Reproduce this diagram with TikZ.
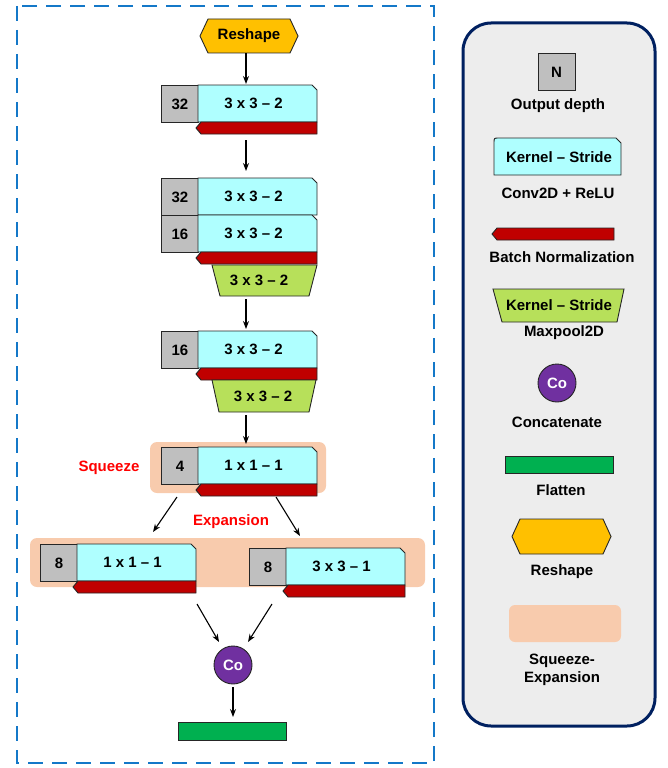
\documentclass[tikz,border=0pt]{standalone}
\usepackage{fontspec}
\setmainfont{Liberation Sans}
\usetikzlibrary{arrows.meta}
\definecolor{graycol}{RGB}{191,191,191}
\definecolor{convcol}{RGB}{175,255,255}
\definecolor{bncol}{RGB}{192,0,0}
\definecolor{poolcol}{RGB}{183,224,90}
\definecolor{rshcol}{RGB}{255,192,0}
\definecolor{cocol}{RGB}{112,48,160}
\definecolor{flatcol}{RGB}{0,176,80}
\definecolor{secol}{RGB}{248,203,173}
\definecolor{dashcol}{RGB}{20,120,200}
\definecolor{legbd}{RGB}{0,32,96}
\definecolor{legfill}{RGB}{237,237,237}
\definecolor{redlab}{RGB}{255,0,0}
\tikzset{
  lab/.style={font=\fontsize{15}{18}\selectfont\bfseries, inner sep=0pt, text=black},
  box/.style={draw=black!85, line width=0.9pt},
  graybox/.style={box, fill=graycol, lab, minimum width=37pt, minimum height=37pt, anchor=north west},
  arr/.style={-{Stealth[length=8pt,width=6pt]}, line width=1.1pt},
}
% #1 name, #2 x left, #3 y top, #4 number, #5 text, #6 x right
\newcommand{\cvrow}[6]{%
  \node[graybox] (#1n) at (#2,#3) {#4};
  \draw[box, fill=convcol] ({#2+37},#3) -- ({#6-5},#3) -- (#6,{#3+5}) -- (#6,{#3+37}) -- ({#2+37},{#3+37}) -- cycle;
  \node[lab] (#1t) at ({(#2+37+#6)/2-4},{#3+18.5}) {#5};
}
% #1 name, #2 tip x, #3 right x, #4 top y
\newcommand{\bnbar}[4]{%
  \draw[box, fill=bncol] ({#2+5},#4) -- (#3,#4) -- (#3,{#4+12}) -- ({#2+5},{#4+12}) -- (#2,{#4+6}) -- cycle;
  \coordinate (#1) at ({(#2+#3)/2},{#4+12});
}
% #1 name, #2 top-left x, #3 top-right x, #4 bottom-left x, #5 bottom-right x, #6 top y, #7 bottom y, #8 text, #9 text x
\newcommand{\poolbox}[9]{%
  \draw[box, fill=poolcol] (#2,#6) -- (#3,#6) -- (#5,#7) -- (#4,#7) -- cycle;
  \node[lab] (#1) at (#9,{(#6+#7)/2}) {#8};
}
% #1 name, #2 left x, #3 right x, #4 top y, #5 bottom y, #6 text
\newcommand{\hexbox}[6]{%
  \fill[rshcol] (#2,{(#4+#5)/2}) -- ({#2+8},#4) -- ({#3-8},#4) -- (#3,{(#4+#5)/2}) -- ({#3-8},#5) -- ({#2+8},#5) -- cycle;
  \draw[box] (#2,{(#4+#5)/2}) -- ({#2+8},#4) -- ({#3-8},#4) -- (#3,{(#4+#5)/2}) -- ({#3-8},#5) -- ({#2+8},#5) -- cycle;
  \node[lab, minimum width={#3-#2}, minimum height={#5-#4}] (#1) at ({(#2+#3)/2},{(#4+#5)/2}) {#6};
}
\begin{document}
\begin{tikzpicture}[x=1pt,y=-1pt]
\useasboundingbox (0,0) rectangle (667,768);

% outer frames
\draw[dashcol, line width=2pt, dash pattern=on 15pt off 9pt] (17,6) rectangle (434,763);
\draw[legbd, line width=3pt, fill=legfill, rounded corners=28pt] (463,23) rectangle (655,726);

% squeeze / expansion backgrounds
\fill[secol, rounded corners=7pt] (150,442) rectangle (326,493);
\fill[secol, rounded corners=7pt] (30,538) rectangle (425,587);
\node[lab, text=redlab] (sqlab) at (109,468) {Squeeze};
\node[lab, text=redlab] (exlab) at (231,522) {Expansion};

% reshape
\hexbox{reshape}{200}{298}{19}{53}{Reshape}

% block 1
\cvrow{b1}{161}{85}{32}{3 x 3 – 2}{317}
\bnbar{b1bn}{196}{317}{122}

% block 2
\cvrow{b2}{161}{178}{32}{3 x 3 – 2}{317}
\cvrow{b2b}{161}{215}{16}{3 x 3 – 2}{317}
\bnbar{b2bn}{196}{317}{252}
\poolbox{p1}{212}{317}{220}{309}{265}{296}{3 x 3 – 2}{259}

% block 3
\cvrow{b3}{161}{331}{16}{3 x 3 – 2}{317}
\bnbar{b3bn}{196}{317}{368}
\poolbox{p2}{212}{316}{219}{309}{380}{412}{3 x 3 – 2}{263}

% squeeze
\cvrow{sq}{161}{447}{4}{1 x 1 – 1}{317}
\bnbar{sqbn}{196}{317}{484}

% expansion
\cvrow{el}{40}{544}{8}{1 x 1 – 1}{196}
\bnbar{elbn}{73}{196}{581}
\cvrow{er}{249}{548}{8}{3 x 3 – 1}{405}
\bnbar{erbn}{283}{405}{585}

% concatenate and flatten
\node[circle, draw=black!85, line width=0.9pt, fill=cocol, minimum size=38pt, inner sep=0pt,
      font=\fontsize{15}{18}\selectfont\bfseries, text=white] (co) at (233,665) {Co};
\node[draw=black!85, line width=0.9pt, fill=flatcol, minimum width=108pt, minimum height=18pt, inner sep=0pt] (flat) at (232,731) {};

% connector end points
\coordinate (a1e) at (246,84);
\coordinate (a2s) at (246,140);
\coordinate (a2e) at (246,171);
\coordinate (a3s) at (246,299);
\coordinate (a3e) at (246,329);
\coordinate (a4s) at (246,415);
\coordinate (a4e) at (246,444);
\coordinate (a5s) at (177,497);
\coordinate (a5e) at (153,532);
\coordinate (a6s) at (276,497);
\coordinate (a6e) at (300,536);
\coordinate (a7s) at (197,604);
\coordinate (a7e) at (219,642);
\coordinate (a8s) at (272,604);
\coordinate (a8e) at (248,642);
\coordinate (a9e) at (233,717);

\draw[arr] (reshape.south -| a1e) -- (a1e);
\draw[arr] (a2s) -- (a2e);
\draw[arr] (a3s) -- (a3e);
\draw[arr] (a4s) -- (a4e);
\draw[arr] (a5s) -- (a5e);
\draw[arr] (a6s) -- (a6e);
\draw[arr] (a7s) -- (a7e);
\draw[arr] (a8s) -- (a8e);
\draw[arr, shorten <=3pt] (co.south) -- (a9e);

% legend
\node[graybox, anchor=center] (lgN) at (556.5,72) {N};
\node[lab] (lgNt) at (558,106) {Output depth};

\draw[box, fill=convcol] (494,175) -- (494,143) .. controls (494,138) .. (499,138) -- (616,138) -- (621,143) -- (621,175) -- cycle;
\node[lab] (lgC) at (559,157) {Kernel – Stride};
\node[lab] (lgCt) at (558,193) {Conv2D + ReLU};

\bnbar{lgB}{492}{614}{228}
\node[lab] (lgBt) at (562,257) {Batch Normalization};

\poolbox{lgP}{493}{624}{502}{617}{289}{322}{Kernel – Stride}{559}
\node[lab] (lgPt) at (564,333) {Maxpool2D};

\node[circle, draw=black!85, line width=0.9pt, fill=cocol, minimum size=38pt, inner sep=0pt,
      font=\fontsize{15}{18}\selectfont\bfseries, text=white] (lgCo) at (557,383) {Co};
\node[lab] (lgCot) at (557,422) {Concatenate};

\node[draw=black!85, line width=0.9pt, fill=flatcol, minimum width=108pt, minimum height=17pt, inner sep=0pt] (lgF) at (559,464.5) {};
\node[lab] (lgFt) at (561,490) {Flatten};

\hexbox{lgR}{512}{611}{519}{554}{}
\node[lab] (lgRt) at (562,572) {Reshape};

\fill[secol, rounded corners=6pt] (509,605) rectangle (621,642);
\node[lab, align=center] (lgSt) at (562,670) {Squeeze-\\Expansion};
\end{tikzpicture}
\end{document}
